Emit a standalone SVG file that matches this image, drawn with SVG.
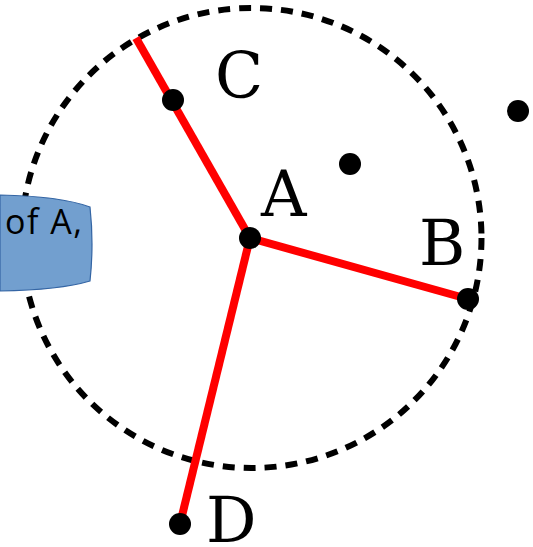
<svg xmlns="http://www.w3.org/2000/svg" width="533" height="547" viewBox="0 0 533 547">
<style>
.lbl{font-family:"DejaVu Serif",serif;font-size:63px;fill:#000}
.dot{fill:#000}
.edge{stroke:#ff0000;stroke-width:8;fill:none;stroke-linecap:butt}
.shp{font-family:"Open Sans",sans-serif;font-size:34px;letter-spacing:1.5px;fill:#000}
</style>
<rect width="533" height="547" fill="#fff"/>
<g id="circle">
<circle cx="251.5" cy="238" r="230" fill="none" stroke="#000" stroke-width="6" stroke-dasharray="12 9"/>
</g>
<g id="shape">
<path d="M0,195 Q60,196 90,207 Q94,244 90,281 Q60,290 0,291 Z" fill="#729fcf" stroke="#3465a4" stroke-width="1.2"/>
<text class="shp" x="5" y="234">of A,</text>
</g>
<g id="connectors">
<line class="edge" x1="250" y1="238" x2="136" y2="38"/>
<line class="edge" x1="250" y1="238" x2="468" y2="299"/>
<line class="edge" x1="250" y1="238" x2="180" y2="524"/>
</g>
<g id="A"><circle class="dot" cx="250" cy="238" r="11"/><text class="lbl" x="261" y="216">A</text></g>
<g id="B"><circle class="dot" cx="468" cy="299" r="11"/><text class="lbl" x="419" y="265">B</text></g>
<g id="C"><circle class="dot" cx="173" cy="100" r="11"/><text class="lbl" x="215" y="98">C</text></g>
<g id="D"><circle class="dot" cx="180" cy="524" r="11"/><text class="lbl" x="206" y="542">D</text></g>
<g id="P1"><circle class="dot" cx="350" cy="164" r="11"/></g>
<g id="P2"><circle class="dot" cx="518" cy="111" r="11"/></g>
</svg>
